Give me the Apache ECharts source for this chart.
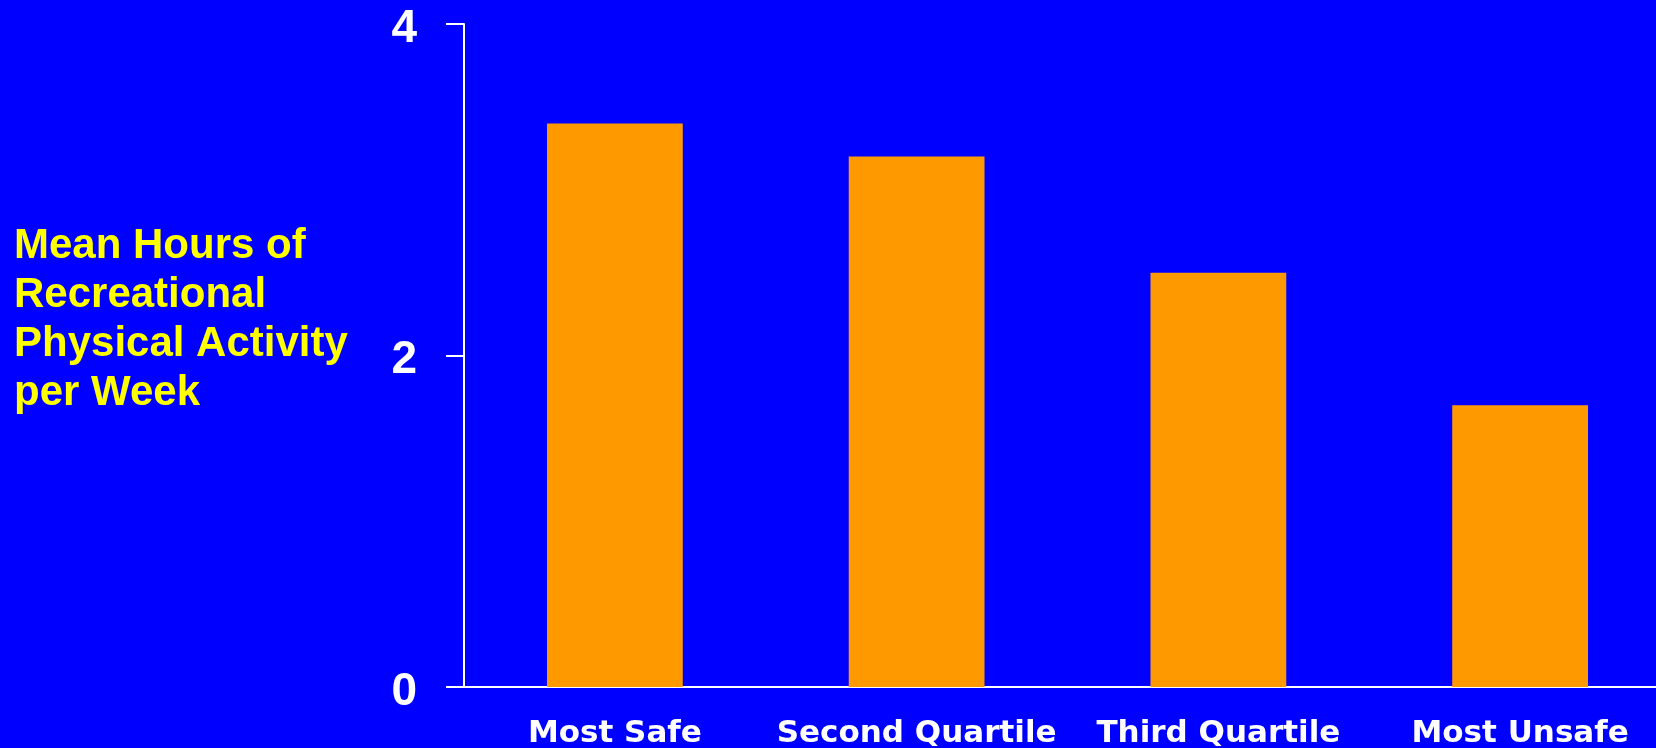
<!DOCTYPE html>
<html>
<head>
<meta charset="utf-8">
<script src="https://cdn.jsdelivr.net/npm/echarts@6/dist/echarts.min.js"></script>
<style>
html, body { margin: 0; padding: 0; background: #0000ff; }
#main { width: 1656px; height: 748px; }
</style>
</head>
<body>
<div id="main"></div>
<script>
// data
const categories = ['Most Safe', 'Second Quartile', 'Third Quartile', 'Most Unsafe'];
const meanHours = [3.4, 3.2, 2.5, 1.7];
const yTitle = 'Mean Hours of\nRecreational\nPhysical Activity\nper Week';

const myChart = echarts.init(document.getElementById('main'));

const option = {
  backgroundColor: '#0000ff',
  animation: false,
  title: {
    text: yTitle,
    left: 14,
    top: 222,
    padding: 0,
    textStyle: {
      color: '#ffff00',
      fontFamily: 'Liberation Sans',
      fontWeight: 'bold',
      fontSize: 42,
      lineHeight: 49
    }
  },
  grid: {
    left: 464,
    top: 24,
    width: 1207,
    height: 663,
    containLabel: false,
    outerBoundsMode: 'none'
  },
  xAxis: {
    type: 'category',
    data: categories,
    axisLine: { lineStyle: { color: '#ffffff', width: 2 } },
    axisTick: { show: false },
    axisLabel: {
      color: '#ffffff',
      fontFamily: 'DejaVu Sans',
      fontWeight: 'bold',
      fontSize: 31,
      margin: 31,
      interval: 0
    }
  },
  yAxis: {
    type: 'value',
    min: 0,
    max: 4,
    interval: 2,
    axisLine: { show: true, lineStyle: { color: '#ffffff', width: 2 } },
    axisTick: { show: true, length: 18, lineStyle: { color: '#ffffff', width: 2 } },
    splitLine: { show: false },
    axisLabel: {
      margin: 47,
      formatter: '{n|{value}}',
      rich: {
        n: {
          color: '#ffffff',
          fontFamily: 'Liberation Sans',
          fontWeight: 'bold',
          fontSize: 46,
          padding: [10, 0, 0, 0]
        }
      }
    }
  },
  series: [
    {
      type: 'bar',
      data: meanHours,
      barWidth: '45%',
      itemStyle: { color: '#ff9900' }
    }
  ]
};

myChart.setOption(option);
</script>
</body>
</html>
